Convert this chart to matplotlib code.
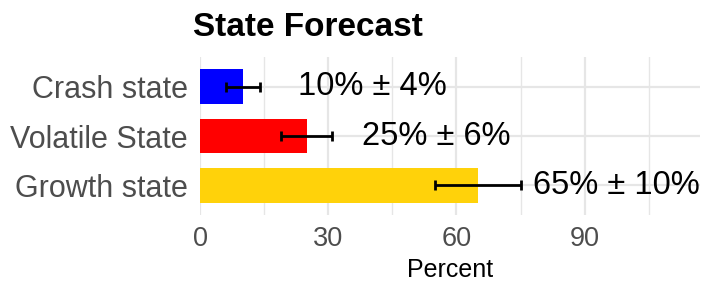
import matplotlib.pyplot as plt

# Data
states = ["Crash state", "Volatile State", "Growth state"]
percent = [10, 25, 65]
errors = [4, 6, 10]
colors = ["#0000FF", "#FF0000", "#FFD20A"]
ticks = [0, 30, 60, 90]
minor_ticks = [15, 45, 75, 105]

plt.rcParams['font.family'] = ['Liberation Sans', 'DejaVu Sans']

fig = plt.figure(figsize=(7.2, 3.0), dpi=100)
ax = fig.add_axes([200 / 720, 1 - 215 / 300, 500 / 720, 158 / 300])

ypos = list(range(len(states)))
ax.barh(ypos, percent, height=0.7, color=colors, zorder=2)
ax.errorbar(percent, ypos, xerr=errors, fmt='none', ecolor='black',
            elinewidth=2, capsize=3.5, capthick=2, zorder=3)

# labels to the right of the bars
for y, v, e in zip(ypos, percent, errors):
    ax.text(v + 13, y, f"{v}% ± {e}%", ha='left', va='center',
            fontsize=23.5, color='black', zorder=4)

ax.set_xlim(0, 117)
ax.set_ylim(len(states) - 0.4, -0.6)
ax.set_yticks(ypos)
ax.set_yticklabels(states, fontsize=22, color='#4D4D4D')
ax.set_xticks(ticks)
ax.set_xticks(minor_ticks, minor=True)
ax.set_xticklabels([str(t) for t in ticks], fontsize=19.5, color='#4D4D4D')
ax.tick_params(axis='both', which='both', length=0)
ax.tick_params(axis='y', pad=9)
ax.tick_params(axis='x', pad=8)

ax.grid(axis='x', which='major', color='#E6E6E6', linewidth=1.6, zorder=0)
ax.grid(axis='x', which='minor', color='#E6E6E6', linewidth=1.0, zorder=0)
ax.grid(axis='y', which='major', color='#E6E6E6', linewidth=1.6, zorder=0)
ax.set_axisbelow(True)
for s in ax.spines.values():
    s.set_visible(False)

ax.set_xlabel("Percent", fontsize=18, color='black', labelpad=4)
fig.text(193 / 720, 1 - 27 / 300, "State Forecast", fontsize=24,
         fontweight='bold', ha='left', va='center')

fig.savefig("out.png", dpi=100)
